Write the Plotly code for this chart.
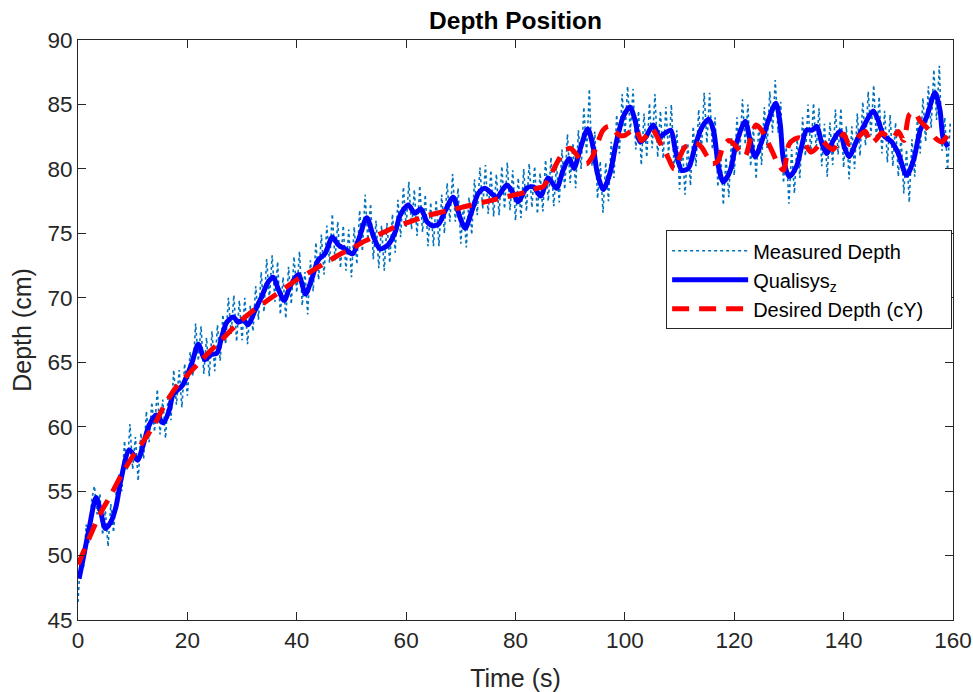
import plotly.graph_objects as go

# ---------------- data ----------------
# Measured depth (sampled every 0.5 s, 0 .. 159.5 s)
meas_t = [i * 0.5 for i in range(320)]
meas_z = [
    46.4, 50.2, 49.0, 52.4, 51.0, 54.3, 55.4, 53.2, 54.8, 51.6, 53.5, 50.7, 54.0, 51.8, 55.0, 56.3, 55.0, 58.9, 56.6, 60.2,
    56.7, 59.2, 55.8, 59.5, 57.5, 61.2, 58.8, 61.9, 59.6, 62.9, 59.4, 62.1, 59.1, 62.5, 60.5, 64.4, 61.7, 64.4, 61.5, 64.9,
    62.4, 65.8, 63.9, 68.0, 65.1, 67.8, 64.1, 66.9, 63.9, 67.4, 64.3, 67.9, 65.1, 68.7, 66.4, 70.0, 67.2, 70.2, 66.6, 69.8,
    66.7, 70.0, 66.4, 69.4, 67.4, 70.9, 68.3, 72.0, 68.9, 73.0, 69.9, 73.3, 69.7, 72.8, 68.7, 71.6, 68.4, 72.4, 69.5, 73.2,
    70.4, 73.6, 69.4, 72.0, 68.7, 72.9, 70.5, 74.3, 71.4, 74.9, 71.8, 75.6, 72.7, 76.5, 72.9, 75.9, 72.3, 75.6, 72.1, 75.3,
    71.6, 75.5, 72.6, 76.8, 73.6, 78.0, 74.5, 77.3, 73.0, 76.0, 72.3, 75.6, 72.1, 75.8, 72.7, 76.5, 73.5, 77.6, 74.7, 78.6,
    75.5, 79.0, 75.3, 78.4, 74.8, 78.7, 75.1, 78.0, 74.0, 77.4, 74.0, 77.6, 74.0, 78.0, 75.0, 78.9, 75.9, 79.6, 75.9, 78.5,
    74.2, 77.3, 73.9, 77.8, 74.9, 79.2, 76.4, 80.1, 76.9, 80.3, 76.5, 79.9, 76.3, 79.6, 76.4, 80.2, 76.9, 80.5, 76.8, 79.9,
    76.0, 79.3, 76.2, 80.0, 76.7, 80.4, 77.0, 80.2, 76.5, 79.7, 76.7, 80.7, 77.5, 80.9, 77.1, 80.3, 77.4, 81.5, 78.4, 82.7,
    78.9, 82.0, 78.5, 83.0, 80.0, 84.8, 81.1, 86.2, 80.2, 82.9, 77.7, 80.6, 76.6, 80.5, 77.5, 82.1, 79.3, 84.2, 81.2, 85.8,
    82.5, 86.4, 82.9, 86.2, 81.5, 84.5, 80.3, 84.3, 80.9, 85.1, 81.6, 85.8, 80.9, 84.5, 80.8, 84.8, 81.1, 85.0, 80.1, 83.0,
    78.4, 81.9, 78.0, 82.0, 78.7, 83.3, 80.2, 84.6, 81.4, 85.9, 82.0, 85.9, 81.5, 84.0, 78.6, 81.4, 77.2, 80.9, 77.8, 82.4,
    79.5, 84.0, 81.0, 85.4, 81.9, 85.0, 80.2, 83.2, 79.2, 83.4, 80.3, 84.8, 81.6, 86.0, 82.8, 86.9, 82.8, 85.2, 78.9, 81.7,
    77.3, 81.5, 78.1, 82.3, 79.3, 84.0, 81.0, 85.0, 81.2, 85.1, 81.5, 84.7, 80.2, 83.5, 79.4, 83.6, 80.3, 84.6, 81.1, 84.7,
    80.1, 83.3, 79.2, 83.3, 80.0, 84.3, 81.0, 85.2, 81.8, 86.0, 82.6, 86.5, 82.3, 85.6, 81.2, 84.5, 80.5, 84.2, 80.2, 83.6,
    79.4, 82.6, 78.1, 81.5, 77.4, 82.3, 79.4, 84.0, 81.2, 85.5, 82.1, 86.4, 83.2, 87.7, 83.8, 88.0, 81.4, 84.0, 79.9, 83.6,
]

# Qualisys z (read at turning points of the curve)
qual_t = [0.2, 1.15, 2.07, 3.3, 4.1, 5.0, 6.0, 6.95, 7.86, 9.4, 10.9, 11.8, 13.0, 14.3, 15.6, 16.7, 17.4, 19.1,
          20.8, 22.0, 23.2, 24.4, 25.4, 26.3, 27.2, 28.4, 29.3, 30.2, 31.1, 32.4, 33.6, 34.8, 35.7, 36.6, 37.7,
          38.8, 40.3, 41.6, 42.7, 43.9, 45.2, 46.5, 47.6, 48.8, 50.2, 51.3, 52.8, 54.0, 55.2, 56.7, 58.0, 58.9,
          60.4, 61.6, 62.7, 63.8, 64.7, 65.9, 67.1, 68.6, 69.8, 70.8, 72.0, 73.2, 74.4, 75.6, 76.6, 78.4, 79.6,
          80.5, 82.0, 83.25, 84.6, 86.0, 87.5, 88.7, 89.8, 90.7, 91.8, 93.2, 94.2, 94.95, 96.05, 97.3, 98.5,
          99.7, 100.9, 101.85, 102.8, 103.7, 105.2, 106.3, 107.3, 108.4, 109.2, 110.4, 111.6, 112.8, 114.0,
          115.3, 116.2, 117.1, 118.0, 119.2, 120.4, 122.0, 122.9, 123.8, 125.0, 126.2, 127.6, 128.4, 129.0,
          130.1, 131.4, 132.3, 133.2, 134.2, 135.1, 136.0, 136.9, 138.1, 139.3, 140.2, 141.0, 142.4, 143.9,
          145.4, 146.3, 147.3, 148.8, 150.0, 151.5, 152.8, 154.0, 155.2, 156.7, 157.6, 158.2, 159.1]
qual_z = [48.2, 50.2, 52.2, 54.5, 53.5, 52.1, 52.6, 53.8, 55.9, 58.2, 57.4, 58.4, 60.1, 60.9, 60.3, 61.3, 62.5, 63.2,
          64.9, 66.4, 65.2, 65.6, 65.7, 67.0, 68.1, 68.5, 68.1, 68.3, 67.9, 69.05, 70.1, 71.25, 71.6, 70.7, 69.8,
          70.9, 71.8, 70.3, 71.4, 72.9, 73.45, 74.7, 74.1, 73.8, 73.4, 74.5, 76.2, 74.8, 73.8, 74.1, 75.1, 76.4,
          77.2, 76.55, 76.9, 75.9, 75.6, 75.7, 76.7, 77.8, 76.3, 75.4, 76.7, 78.1, 78.5, 78.1, 77.8, 78.75, 78.1,
          77.45, 78.5, 78.6, 77.9, 79.3, 78.5, 79.9, 80.8, 80.05, 81.5, 83.1, 81.7, 79.7, 78.4, 79.7, 82.2,
          84.05, 84.8, 83.8, 82.1, 82.4, 83.4, 82.5, 82.75, 83.0, 81.5, 79.9, 80.05, 81.7, 83.15,
          83.85, 83.0, 80.2, 79.0, 79.8, 82.0, 83.7, 82.2, 80.95, 82.1, 83.7, 85.1, 83.5, 80.7,
          79.4, 80.2, 81.7, 83.0, 83.0, 83.3, 82.0, 81.2, 82.2, 82.9, 81.6, 80.95, 82.2, 83.5,
          84.5, 83.8, 82.6, 82.1, 81.2, 79.5, 80.7, 83.0, 84.05, 85.9, 84.6, 82.4, 81.7]

# Desired depth (cY)
des_t = list(range(0, 85, 2)) + list(range(85, 161))
des_z = [49.3, 51.3, 53.2, 54.7, 56.3, 57.7, 58.9, 60.2, 61.8, 63.1, 64.0, 64.9, 65.8, 66.6, 67.5, 68.3, 69.0,
         69.6, 70.2, 70.8, 71.4, 71.9, 72.4, 72.9, 73.4, 73.8, 74.3, 74.7, 75.1, 75.5, 75.8, 76.1, 76.4, 76.6,
         76.8, 77.0, 77.2, 77.4, 77.6, 77.8, 78.0, 78.2, 78.5,
         78.6, 79.2, 80.0, 80.8, 81.4, 81.6, 81.2, 80.6, 80.4, 80.9, 82.0, 83.0, 83.3, 83.0, 82.6, 82.6, 82.9,
         83.1, 82.2, 82.6, 83.1, 82.4, 81.6, 80.8, 80.0, 80.9, 81.7, 81.8, 82.0, 81.7, 81.0, 80.4, 80.6, 81.8,
         82.2, 81.9, 81.4, 81.0, 82.4, 83.4, 83.0, 82.2, 81.3, 80.4, 79.9, 81.9, 82.3, 82.4, 81.9, 81.3, 81.6,
         82.2, 81.8, 81.5, 82.0, 82.7, 81.9, 82.1, 82.6, 82.9, 82.0, 82.3, 82.8, 82.5, 82.4, 82.9, 82.2, 84.2,
         84.4, 83.7, 83.3, 82.8, 82.3, 82.1, 82.6, 83.1]

x_ticks = [0, 20, 40, 60, 80, 100, 120, 140, 160]
y_ticks = [45, 50, 55, 60, 65, 70, 75, 80, 85, 90]

# ---------------- figure ----------------
FONT = "Liberation Sans, Arial, Helvetica, sans-serif"
AX = "#262626"

fig = go.Figure()
fig.add_trace(go.Scatter(
    x=meas_t, y=meas_z, mode="lines", name="Measured Depth",
    line=dict(color="#0072BD", width=1.6, dash="dot"),
))
fig.add_trace(go.Scatter(
    x=qual_t, y=qual_z, mode="lines", name="Qualisys<sub>z</sub>",
    line=dict(color="#0000FF", width=5, shape="spline", smoothing=0.8),
))
fig.add_trace(go.Scatter(
    x=des_t, y=des_z, mode="lines", name="Desired Depth (cY)\u00a0\u00a0\u00a0\u00a0",
    line=dict(color="#FF0000", width=5, dash="17px,10px", shape="spline", smoothing=0.8),
))

fig.update_layout(
    width=973, height=692,
    margin=dict(l=78, r=20, t=40, b=72, autoexpand=False),
    paper_bgcolor="white", plot_bgcolor="white",
    font=dict(family=FONT, size=22, color=AX),
    title=dict(text="<b>Depth Position</b>", x=0.5, xanchor="center",
               xref="paper", y=0.971, yanchor="middle",
               font=dict(family=FONT, size=24.5, color="black")),
    legend=dict(x=0.999, xanchor="right", y=0.672, yanchor="top",
                bgcolor="white", bordercolor=AX, borderwidth=1, itemwidth=76,
                font=dict(family=FONT, size=20, color="black")),
    showlegend=True,
)
fig.update_xaxes(
    range=[0, 160], tickvals=x_ticks, ticks="inside", ticklen=8, tickcolor=AX,
    showline=True, linecolor=AX, linewidth=1, mirror="ticks", showgrid=False, zeroline=False,
    automargin=False,
    title=dict(text="Time (s)", font=dict(family=FONT, size=25, color=AX), standoff=19),
    tickfont=dict(family=FONT, size=22.5, color=AX),
)
fig.update_yaxes(
    range=[45, 90], tickvals=y_ticks, ticks="inside", ticklen=8, tickcolor=AX,
    showline=True, linecolor=AX, linewidth=1, mirror="ticks", showgrid=False, zeroline=False,
    automargin=False,
    title=dict(text="Depth (cm)", font=dict(family=FONT, size=25, color=AX), standoff=8),
    tickfont=dict(family=FONT, size=22.5, color=AX),
)

fig.write_html("out.html")
